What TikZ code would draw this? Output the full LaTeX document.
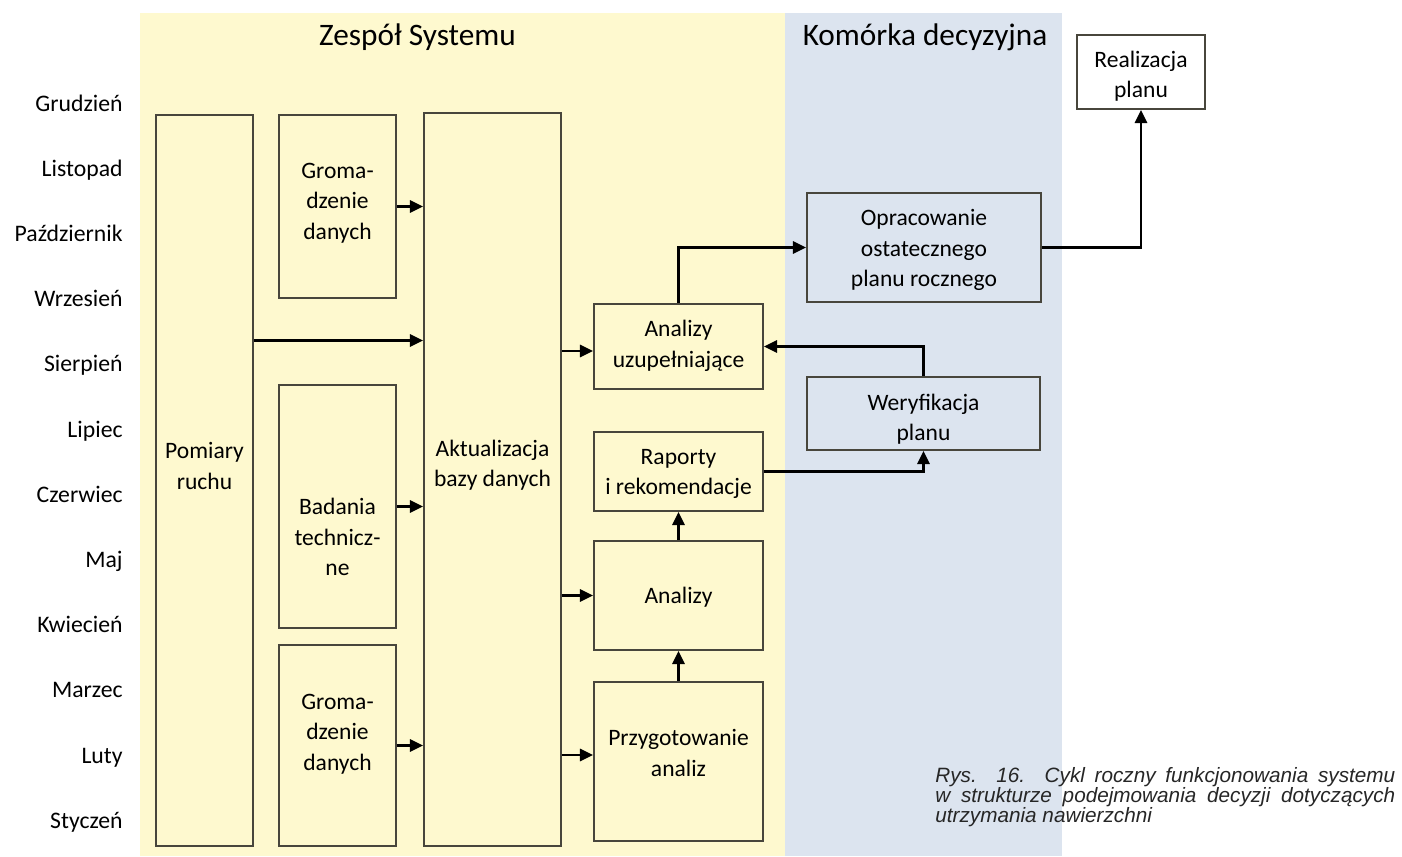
\documentclass[tikz,border=0pt]{standalone}
\usepackage{fontspec}
\setmainfont{Carlito}
\newfontfamily\podpisfont{Liberation Sans}
\usetikzlibrary{arrows.meta,fit}
\definecolor{zolty}{RGB}{254,249,207}
\definecolor{niebieski}{RGB}{220,228,239}
\definecolor{ramka}{RGB}{72,70,60}
\tikzset{
  blok/.style={draw=ramka, line width=1.1pt, inner sep=0pt},
  opis/.style={align=center, font=\fontsize{13.4}{17.3}\selectfont},
  miesiac/.style={anchor=base east, inner sep=0pt, font=\fontsize{13.5}{17.3}\selectfont},
  tytul/.style={anchor=base, font=\fontsize{17.8}{21}\selectfont},
  strz/.style={line width=1.3pt, -{Triangle[length=7.5pt,width=7pt]}},
}
\begin{document}
\begin{tikzpicture}[x=0.02cm,y=-0.02cm]
\useasboundingbox (0,0) rectangle (1402,856);
% tlo
\fill[zolty] (140,13) rectangle (785,856);
\fill[niebieski] (785,13) rectangle (1062,856);
\node[tytul] (zespol) at (417.5,45) {Zespół Systemu};
\node[tytul] (komorka) at (925,45) {Komórka decyzyjna};
% miesiace
\foreach \m [count=\i from 0] in {Grudzień,Listopad,Październik,Wrzesień,Sierpień,Lipiec,Czerwiec,Maj,Kwiecień,Marzec,Luty,Styczeń}
  \node[miesiac] (m\i) at (123,111+65.2*\i) {\m};
% bloki
\node[blok, fit={(156,115) (253,846)}] (pom) {};
\node[blok, fit={(279,115) (396,298)}] (grom1) {};
\node[blok, fit={(279,385) (396,628)}] (bad) {};
\node[blok, fit={(279,645) (396,846)}] (grom2) {};
\node[blok, fit={(424,113) (561,846)}] (akt) {};
\node[blok, fit={(594,304) (763,389)}] (auz) {};
\node[blok, fit={(594,432) (763,511)}] (rap) {};
\node[blok, fit={(594,541) (763,650)}] (ana) {};
\node[blok, fit={(594,682) (763,841)}] (prz) {};
\node[blok, fill=niebieski, fit={(807,193) (1041,302)}] (opr) {};
\node[blok, fill=niebieski, fit={(807,377) (1040,450)}] (wer) {};
\node[blok, fill=white, fit={(1077,35) (1205,109)}] (rea) {};
% opisy
\node[opis] (pomT) at (204.5,466) {Pomiary\\ruchu};
\node[opis] (grom1T) at (337.5,203) {Groma-\\dzenie\\danych};
\node[opis] (badT) at (337.5,537) {Badania\\technicz-\\ne};
\node[opis] (grom2T) at (337.5,734) {Groma-\\dzenie\\danych};
\node[opis] (aktT) at (492.5,465) {Aktualizacja\\bazy danych};
\node[opis] (auzT) at (678.5,346) {Analizy\\uzupełniające};
\node[opis] (rapT) at (678.5,474) {Raporty\\i rekomendacje};
\node[opis] (anaT) at (678.5,597) {Analizy};
\node[opis] (przT) at (678.5,753) {Przygotowanie\\analiz};
\node[opis] (oprT) at (924,250) {Opracowanie\\ostatecznego\\planu rocznego};
\node[opis] (werT) at (923.5,419) {Weryfikacja\\planu};
\node[opis] (reaT) at (1141,76) {Realizacja\\planu};
% strzalki
\coordinate (pomWy) at ([yshift=2.8cm]pom.east);
\coordinate (auzWe) at ([yshift=-0.09cm]auz.west);
\coordinate (przWe) at ([yshift=0.13cm]prz.west);
\draw[strz] (grom1.east) -- (grom1.east -| akt.west);
\draw[strz] (pomWy) -- (pomWy -| akt.west);
\draw[strz] (bad.east) -- (bad.east -| akt.west);
\draw[strz] (grom2.east) -- (grom2.east -| akt.west);
\draw[strz] (auzWe -| akt.east) -- (auzWe);
\draw[strz] (ana.west -| akt.east) -- (ana.west);
\draw[strz] (przWe -| akt.east) -- (przWe);
\draw[strz] (prz.north) -- (ana.south);
\draw[strz] (ana.north) -- (rap.south);
\draw[strz] (rap.east) -| (wer.south);
\draw[strz] (wer.north) |- (auz.east);
\draw[strz] (auz.north) |- (opr.west);
\draw[strz] (opr.east) -| (rea.south);
% podpis
\node[anchor=base west, text width=9.2cm, align=justify, inner sep=0pt,
  font=\podpisfont\itshape\fontsize{11.8}{11.6}\selectfont, text=black!85] (podpis) at (935,782)
  {Rys. 16. Cykl roczny funkcjonowania systemu\linebreak w strukturze podejmowania decyzji dotyczących\linebreak utrzymania nawierzchni};
\end{tikzpicture}
\end{document}
